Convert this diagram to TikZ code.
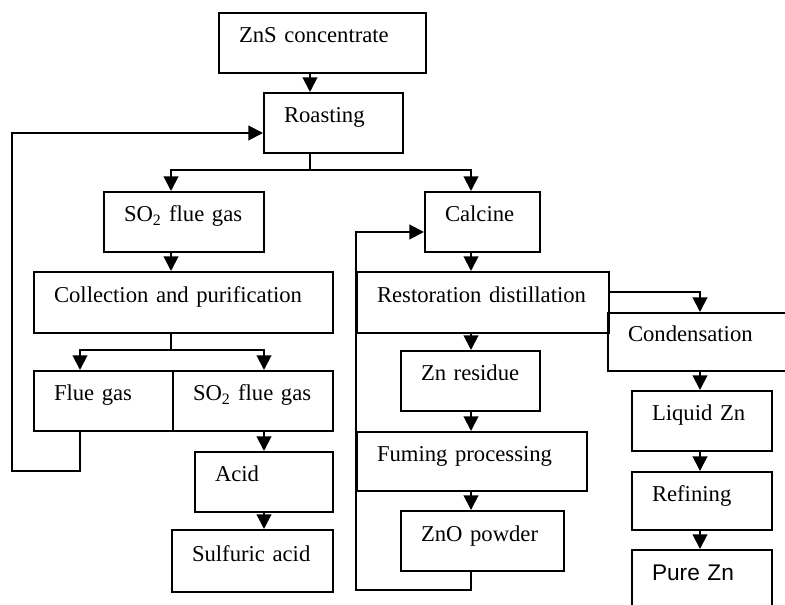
\documentclass[tikz,border=0pt]{standalone}
\usepackage{fontspec}
\setmainfont{Liberation Serif}
\newfontfamily\arialfont{Liberation Sans}
\usetikzlibrary{arrows.meta}
\newcommand{\boxfont}{\fontsize{17}{20}\selectfont}

\tikzset{
  procbox/.style 2 args={draw, line width=1.5pt, anchor=north west, inner xsep=15pt, inner ysep=0pt,
                         text width=#1, minimum height=#2, text height=0.35em, text depth=0.35em,
                         align=left, font=\boxfont},
  flow/.style={line width=1.5pt, -{Triangle[length=11pt,width=11pt]}},
  link/.style={line width=1.5pt},
}

\begin{document}
\begin{tikzpicture}[x=0.75pt, y=-0.75pt]
            \path[use as bounding box] (0,0) rectangle (785,605);
            \clip (0,0) rectangle (785,605);
            % roasting and SO2 side
            \node[procbox={125.25pt}{45pt}]    (zns)     at (218, 12) {ZnS concentrate};
            \node[procbox={74.25pt}{45pt}]     (roast)   at (263, 92) {Roasting};
            \node[procbox={90pt}{45pt}]        (so2a)    at (103,191) {SO\textsubscript{2} flue gas};
            \node[procbox={194.25pt}{45.75pt}] (collect) at ( 33,271) {Collection and purification};
            \node[procbox={74.25pt}{45pt}]     (flue)    at ( 33,370) {Flue gas};
            \node[procbox={90pt}{45pt}]        (so2b)    at (172,370) {SO\textsubscript{2} flue gas};
            \node[procbox={73.5pt}{45pt}]      (acid)    at (194,451) {Acid};
            \node[procbox={90.75pt}{46.5pt}]   (sulf)    at (171,529) {Sulfuric acid};
            % calcine side
            \node[procbox={56.25pt}{45pt}]     (calc)    at (424,191) {Calcine};
            \node[procbox={159pt}{45.75pt}]    (resto)   at (356,271) {Restoration distillation};
            \node[procbox={114pt}{43.5pt}]     (cond)    at (607,312) {Condensation};
            \node[procbox={74.25pt}{45pt}]     (znres)   at (400,350) {Zn residue};
            \node[procbox={142.5pt}{44.25pt}]  (fum)     at (356,431) {Fuming processing};
            \node[procbox={92.25pt}{45pt}]     (zno)     at (400,510) {ZnO powder};
            \node[procbox={75pt}{45pt}]        (liq)     at (631,390) {Liquid Zn};
            \node[procbox={75pt}{43.5pt}]      (ref)     at (631,471) {Refining};
            \node[procbox={75pt}{45pt}, font=\boxfont\arialfont] (pure) at (631,549) {Pure Zn};

            \coordinate (colA) at (310,0);
            \coordinate (colB) at (171,0);
            \coordinate (colC) at (471,0);
            \coordinate (colD) at ( 80,0);
            \coordinate (colE) at (264,0);
            \coordinate (colF) at (700,0);
            \coordinate (rowA) at (0,133);
            \coordinate (rowB) at (0,232);
            \coordinate (rowC) at (0,292);
            \coordinate (split1) at (310,170);
            \coordinate (split2) at (171,350);
            \coordinate (loopL)  at ( 12,471);
            \coordinate (loopR)  at (356,590);

            \draw[flow] (zns.south -| colA) -- (roast.north -| colA);
            \draw[link] (roast.south -| colA) -- (split1);
            \draw[flow] (split1) -| (so2a.north -| colB);
            \draw[flow] (split1) -| (calc.north -| colC);
            \draw[flow] (so2a.south -| colB) -- (collect.north -| colB);
            \draw[link] (collect.south -| colB) -- (split2);
            \draw[flow] (split2) -| (flue.north -| colD);
            \draw[flow] (split2) -| (so2b.north -| colE);
            \draw[flow] (so2b.south -| colE) -- (acid.north -| colE);
            \draw[flow] (acid.south -| colE) -- (sulf.north -| colE);
            \draw[flow] (flue.south -| colD) |- (loopL) |- (roast.west |- rowA);
            \draw[flow] (calc.south -| colC) -- (resto.north -| colC);
            \draw[flow] (resto.south -| colC) -- (znres.north -| colC);
            \draw[flow] (znres.south -| colC) -- (fum.north -| colC);
            \draw[flow] (fum.south -| colC) -- (zno.north -| colC);
            \draw[flow] (zno.south -| colC) |- (loopR) |- (calc.west |- rowB);
            \draw[flow] (resto.east |- rowC) -| (cond.north -| colF);
            \draw[flow] (cond.south -| colF) -- (liq.north -| colF);
            \draw[flow] (liq.south -| colF) -- (ref.north -| colF);
            \draw[flow] (ref.south -| colF) -- (pure.north -| colF);
        \end{tikzpicture}
\end{document}
